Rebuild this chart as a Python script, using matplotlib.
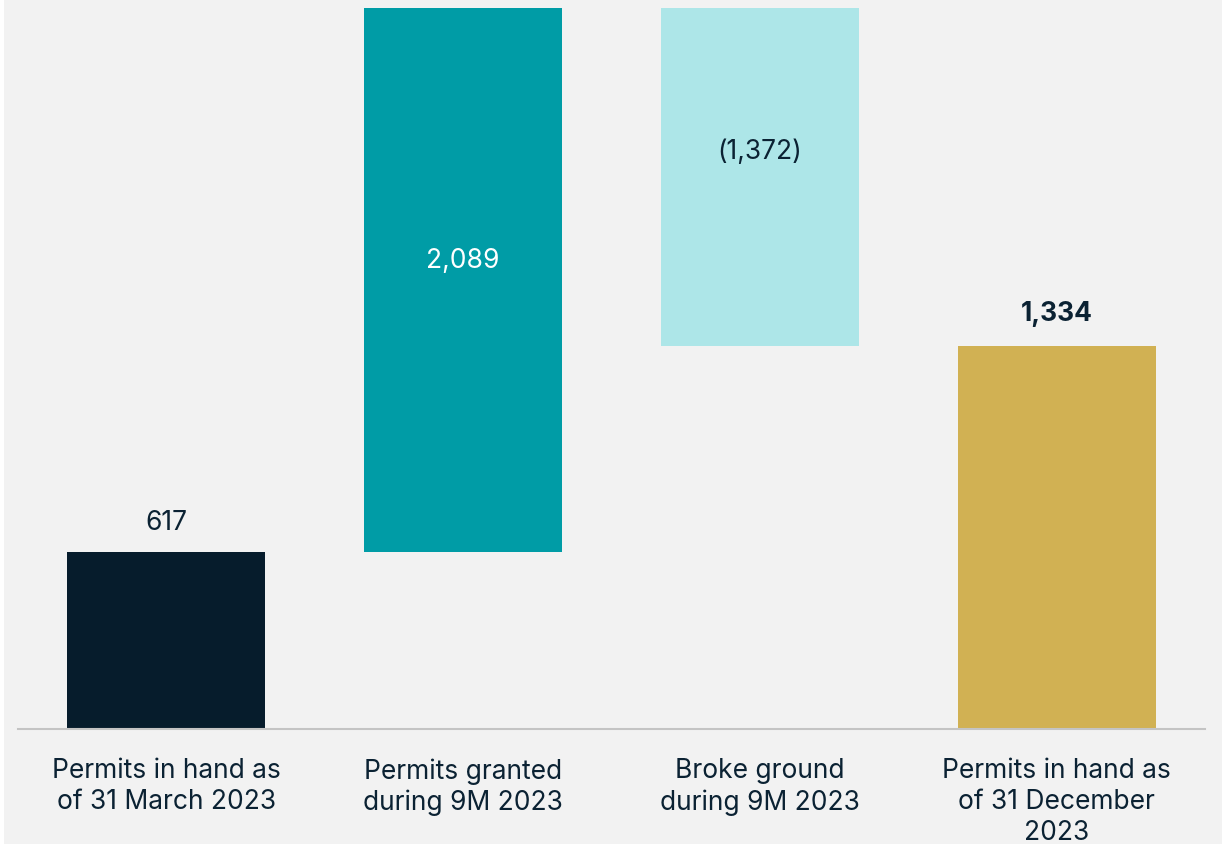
import numpy as np
import matplotlib.pyplot as plt
from matplotlib.patches import Rectangle

# Permit waterfall: opening stock, granted, broke ground, closing stock
categories = ["Permits in hand as\nof 31 March 2023",
              "Permits granted\nduring 9M 2023",
              "Broke ground\nduring 9M 2023",
              "Permits in hand as\nof 31 December\n2023"]
opening = 617
granted = 2089
broke_ground = -1372
closing = 1334
value_labels = ["617", "2,089", "(1,372)", "1,334"]

bg = "#f2f2f2"
txt = "#0b2233"
colors = ["#061c2c", "#009ca6", "#ade6e8", "#d1b153"]

plt.rcParams['font.family'] = ['Inter', 'DejaVu Sans']
fs = 19

fig = plt.figure(figsize=(12.22, 8.44), dpi=100, facecolor=bg)
# thin white strip on the left edge
fig.patches.append(Rectangle((0, 0), 4 / 1222, 1, transform=fig.transFigure,
                             facecolor="white", edgecolor="none", zorder=0))
ax = fig.add_axes([18 / 1222, (844 - 729) / 844, (1205 - 18) / 1222, (729 - 8) / 844])
ax.set_facecolor(bg)

x = np.arange(len(categories))
bottoms = [0, opening, opening + granted + broke_ground, 0]
heights = [opening, granted, -broke_ground, closing]
ax.bar(x, heights, bottom=bottoms, width=0.667, color=colors, zorder=2)

ax.set_xlim(-0.5, 3.5)
ax.set_ylim(0, 2513)

# value labels
ax.annotate(value_labels[0], (x[0], opening), xytext=(0, 21), textcoords="offset points",
            ha="center", va="center", fontsize=fs, color=txt)
ax.text(x[1], opening + granted / 2 - 30, value_labels[1], ha="center", va="center",
        fontsize=fs, color="white")
ax.text(x[2], bottoms[2] + heights[2] / 2 - 10, value_labels[2], ha="center", va="center",
        fontsize=fs, color=txt)
ax.annotate(value_labels[3], (x[3], closing), xytext=(0, 23), textcoords="offset points",
            ha="center", va="center", fontsize=fs, color=txt, fontweight="bold")

for s in ["top", "right", "left"]:
    ax.spines[s].set_visible(False)
ax.spines["bottom"].set_color("#c4c4c4")
ax.spines["bottom"].set_linewidth(1.5)
ax.set_yticks([])
ax.set_xticks(x)
ax.set_xticklabels(categories, fontsize=fs, color=txt, linespacing=1.24)
ax.tick_params(axis="x", length=0, pad=21)

fig.savefig("out.png", dpi=100, facecolor=bg)
